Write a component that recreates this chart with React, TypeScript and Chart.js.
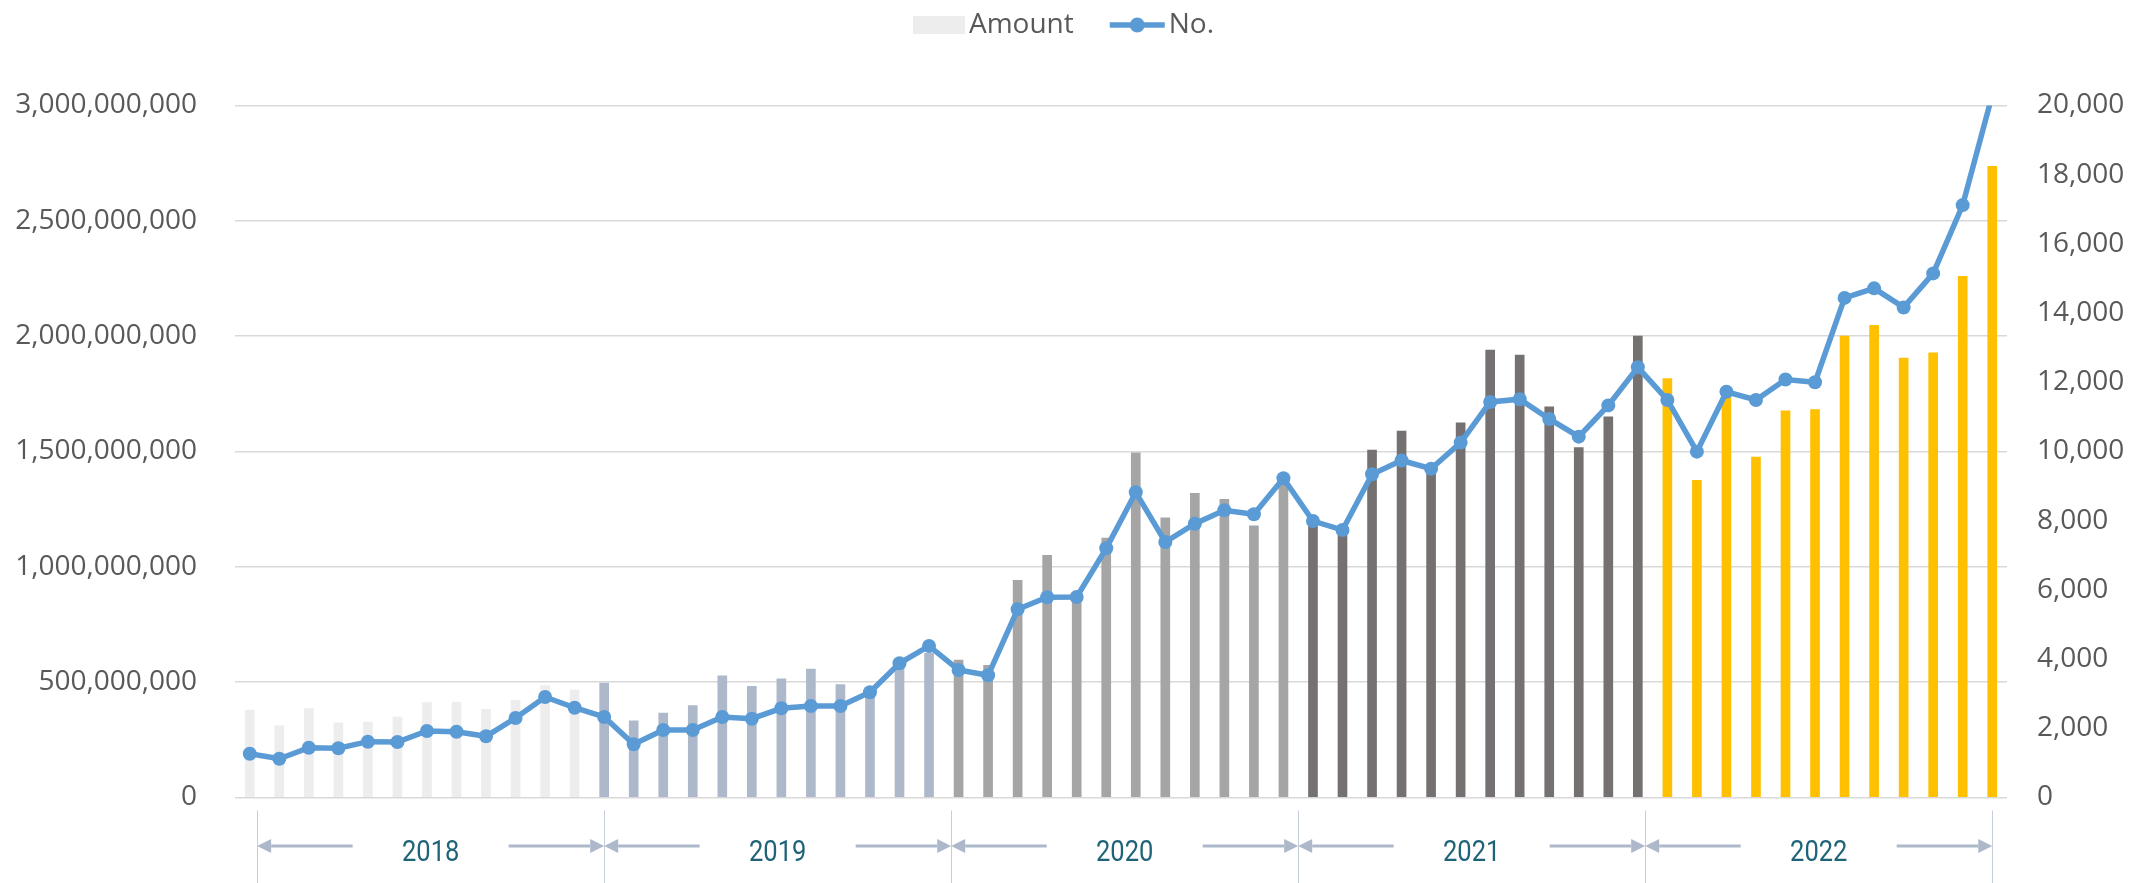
import React, { useEffect, useRef } from "react";
import { Chart, registerables } from "chart.js";

Chart.register(...registerables);

// ---------- data ----------
const YEARS = ["2018", "2019", "2020", "2021", "2022"];
const MONTHS = ["01", "02", "03", "04", "05", "06", "07", "08", "09", "10", "11", "12"];
const CATEGORIES = YEARS.flatMap((y) => MONTHS.map((m) => `${y}-${m}`));

// Amount (in millions)
const AMOUNT_MILLIONS_2018 = [379, 311, 385, 324, 327, 349, 411, 414, 382, 421, 485, 466];
const AMOUNT_MILLIONS_2019 = [496, 332, 366, 398, 528, 482, 514, 557, 489, 475, 570, 625];
const AMOUNT_MILLIONS_2020 = [596, 573, 942, 1050, 870, 1125, 1494, 1212, 1319, 1293, 1178, 1360];
const AMOUNT_MILLIONS_2021 = [1190, 1150, 1506, 1588, 1440, 1624, 1940, 1918, 1694, 1517, 1650, 2000];
const AMOUNT_MILLIONS_2022 = [1816, 1375, 1745, 1476, 1676, 1682, 2000, 2047, 1905, 1928, 2259, 2736];

// No. (count), read from the right axis
const COUNT_2018 = [1266, 1121, 1439, 1422, 1613, 1604, 1922, 1902, 1769, 2298, 2905, 2595];
const COUNT_2019 = [2327, 1538, 1951, 1951, 2327, 2277, 2578, 2645, 2645, 3040, 3879, 4379];
const COUNT_2020 = [3685, 3532, 5439, 5786, 5795, 7202, 8821, 7384, 7913, 8300, 8185, 9225];
const COUNT_2021 = [7991, 7731, 9341, 9740, 9503, 10257, 11431, 11512, 10940, 10429, 11333, 12434];
const COUNT_2022 = [11490, 9996, 11726, 11490, 12080, 12001, 14440, 14715, 14164, 15147, 17122, 20300];

const AMOUNT = [
  ...AMOUNT_MILLIONS_2018,
  ...AMOUNT_MILLIONS_2019,
  ...AMOUNT_MILLIONS_2020,
  ...AMOUNT_MILLIONS_2021,
  ...AMOUNT_MILLIONS_2022,
].map((v) => v * 1e6);
const COUNT = [...COUNT_2018, ...COUNT_2019, ...COUNT_2020, ...COUNT_2021, ...COUNT_2022];

// axis ranges
const LEFT_MIN = 0;
const LEFT_MAX = 3000000000;
const LEFT_STEP = 500000000;
const RIGHT_MIN = 0;
const RIGHT_MAX = 20000;
const RIGHT_STEP = 2000;

const SERIES_LABELS = ["Amount", "No."];

// ---------- styles ----------
const YEAR_COLORS = ["#EDEDED", "#ADB9CA", "#A5A5A5", "#767171", "#FFC000"];
const LINE_COLOR = "#5B9BD5";
const TEXT_COLOR = "#595959";
const GRID_COLOR = "#D9D9D9";
const YEAR_TEXT_COLOR = "#1F6379";
const ARROW_COLOR = "#ADB9CA";
const FONT_FAMILY = "'Open Sans', 'Noto Sans', sans-serif";

const W = 2133;
const H = 883;

const legendPlugin = {
  id: "customLegend",
  afterDraw(chart: any) {
    const { ctx } = chart;
    ctx.save();
    ctx.font = `28px ${FONT_FAMILY}`;
    ctx.textBaseline = "middle";
    ctx.textAlign = "left";
    const boxW = 52;
    const boxH = 18;
    const lineW = 55;
    const gapText = 4;
    const gapItems = 36;
    const t1 = ctx.measureText(SERIES_LABELS[0]).width;
    const t2 = ctx.measureText(SERIES_LABELS[1]).width;
    const total = boxW + gapText + t1 + gapItems + lineW + gapText + t2;
    let x = chart.width / 2 - total / 2 - 3;
    const cy = 25;
    ctx.fillStyle = YEAR_COLORS[0];
    ctx.fillRect(x, cy - boxH / 2, boxW, boxH);
    x += boxW + gapText;
    ctx.fillStyle = TEXT_COLOR;
    ctx.fillText(SERIES_LABELS[0], x, cy);
    x += t1 + gapItems;
    ctx.strokeStyle = LINE_COLOR;
    ctx.lineWidth = 5.5;
    ctx.beginPath();
    ctx.moveTo(x, cy);
    ctx.lineTo(x + lineW, cy);
    ctx.stroke();
    ctx.fillStyle = LINE_COLOR;
    ctx.beginPath();
    ctx.arc(x + lineW / 2, cy, 7.5, 0, Math.PI * 2);
    ctx.fill();
    x += lineW + gapText;
    ctx.fillStyle = TEXT_COLOR;
    ctx.fillText(SERIES_LABELS[1], x, cy);
    ctx.restore();
  },
};

function drawArrow(ctx: CanvasRenderingContext2D, fromX: number, toX: number, y: number) {
  const dir = toX > fromX ? 1 : -1;
  const headLen = 14;
  const headHalf = 7;
  ctx.beginPath();
  ctx.moveTo(fromX, y);
  ctx.lineTo(toX - dir * headLen, y);
  ctx.stroke();
  ctx.beginPath();
  ctx.moveTo(toX, y);
  ctx.lineTo(toX - dir * headLen, y - headHalf);
  ctx.lineTo(toX - dir * headLen, y + headHalf);
  ctx.closePath();
  ctx.fill();
}

const yearBandPlugin = {
  id: "yearBand",
  afterDraw(chart: any) {
    const { ctx, chartArea } = chart;
    const xScale = chart.scales.x;
    const bottom = chartArea.bottom;
    const first = 0.25;
    const last = CATEGORIES.length - 1;
    const span = (last - first) / YEARS.length;
    const xs: number[] = [];
    for (let k = 0; k <= YEARS.length; k++) xs.push(xScale.getPixelForValue(first + k * span));
    ctx.save();
    ctx.strokeStyle = "#C5CDD9";
    ctx.lineWidth = 1;
    xs.forEach((px) => {
      ctx.beginPath();
      ctx.moveTo(Math.round(px) + 0.5, bottom + 13);
      ctx.lineTo(Math.round(px) + 0.5, chart.height);
      ctx.stroke();
    });
    ctx.strokeStyle = ARROW_COLOR;
    ctx.fillStyle = ARROW_COLOR;
    ctx.lineWidth = 3;
    const ay = bottom + 48.5;
    for (let i = 0; i < YEARS.length; i++) {
      const a = xs[i];
      const b = xs[i + 1];
      const mid = (a + b) / 2;
      drawArrow(ctx, mid - 78, a, ay);
      drawArrow(ctx, mid + 78, b, ay);
    }
    ctx.fillStyle = YEAR_TEXT_COLOR;
    ctx.font = `29px Roboto, 'Open Sans', sans-serif`;
    ctx.textAlign = "center";
    ctx.textBaseline = "middle";
    for (let i = 0; i < YEARS.length; i++) {
      const mid = (xs[i] + xs[i + 1]) / 2;
      ctx.save();
      ctx.translate(mid, bottom + 56);
      ctx.scale(0.88, 1);
      ctx.fillText(YEARS[i], 0, 0);
      ctx.restore();
    }
    ctx.restore();
  },
};

export default function App() {
  const canvasRef = useRef<HTMLCanvasElement | null>(null);

  useEffect(() => {
    document.body.style.margin = "0";
    const canvas = canvasRef.current;
    if (!canvas) return;
    const barColors = CATEGORIES.map((_, i) => YEAR_COLORS[Math.floor(i / MONTHS.length)]);
    const tickFont = { family: FONT_FAMILY, size: 28 };
    const chart = new Chart(canvas, {
      type: "bar",
      data: {
        labels: CATEGORIES,
        datasets: [
          {
            type: "bar",
            label: SERIES_LABELS[0],
            data: AMOUNT,
            yAxisID: "y",
            backgroundColor: barColors,
            borderWidth: 0,
            barThickness: 9,
            order: 1,
          } as any,
          {
            type: "line",
            label: SERIES_LABELS[1],
            data: COUNT,
            yAxisID: "y1",
            borderColor: LINE_COLOR,
            backgroundColor: LINE_COLOR,
            borderWidth: 5.5,
            pointRadius: 7,
            pointHoverRadius: 7,
            pointBackgroundColor: LINE_COLOR,
            pointBorderColor: LINE_COLOR,
            pointBorderWidth: 0,
            tension: 0,
            clip: 0,
            order: 0,
          } as any,
        ],
      },
      options: {
        responsive: false,
        animation: false,
        devicePixelRatio: 1,
        layout: { padding: { top: 105.5, bottom: 85.5, left: 0, right: 0 } },
        plugins: {
          legend: { display: false },
          tooltip: { enabled: false },
        },
        scales: {
          x: {
            display: false,
            offset: true,
          },
          y: {
            position: "left",
            min: LEFT_MIN,
            max: LEFT_MAX,
            ticks: {
              stepSize: LEFT_STEP,
              padding: 38,
              color: TEXT_COLOR,
              font: tickFont,
              callback: (v: any) => Number(v).toLocaleString("en-US"),
            },
            grid: { color: GRID_COLOR, lineWidth: 1.5, drawTicks: false },
            border: { display: false },
            afterFit: (s: any) => {
              s.width = 235;
            },
          },
          y1: {
            position: "right",
            min: RIGHT_MIN,
            max: RIGHT_MAX,
            ticks: {
              stepSize: RIGHT_STEP,
              padding: 30,
              color: TEXT_COLOR,
              font: tickFont,
              callback: (v: any) => Number(v).toLocaleString("en-US"),
            },
            grid: { drawOnChartArea: false, drawTicks: false },
            border: { display: false },
            afterFit: (s: any) => {
              s.width = 126;
            },
          },
        },
      } as any,
      plugins: [legendPlugin, yearBandPlugin],
    });
    return () => {
      chart.destroy();
    };
  }, []);

  return (
    <div style={{ width: W, height: H, background: "#FFFFFF" }}>
      <canvas ref={canvasRef} width={W} height={H} style={{ display: "block", width: W, height: H }} />
    </div>
  );
}
